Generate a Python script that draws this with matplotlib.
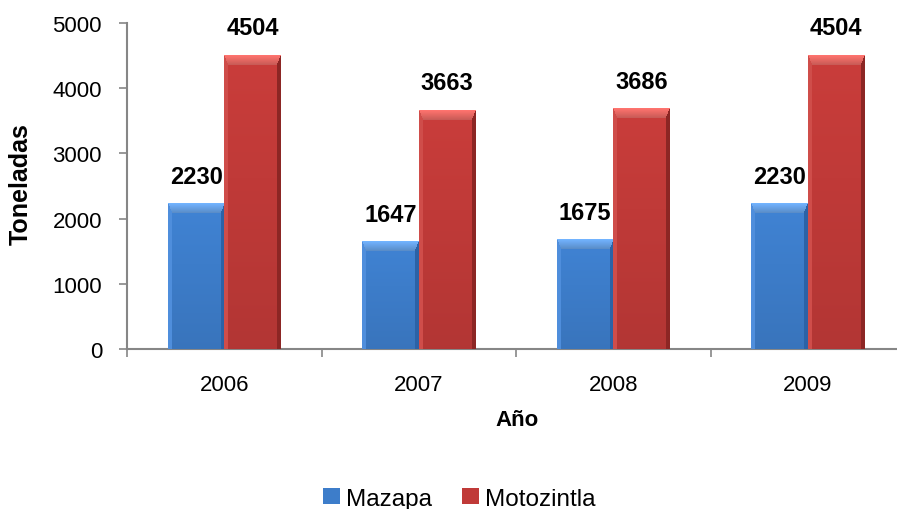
import numpy as np
import matplotlib.pyplot as plt
from matplotlib.colors import to_rgb
from matplotlib.patches import Patch

years = ['2006', '2007', '2008', '2009']
mazapa = [2230, 1647, 1675, 2230]
motozintla = [4504, 3663, 3686, 4504]

# body, top bevel, left bevel, right bevel
blue = ['#3d7dca', '#6aa6ec', '#4f8edc', '#2c62a6']
red = ['#c03a38', '#ec6b66', '#cf4d4a', '#8c2624']

plt.rcParams['font.family'] = ['Liberation Sans', 'DejaVu Sans']

fig = plt.figure(figsize=(8.97, 5.10), dpi=100)
ax = fig.add_axes([0.1416, 0.3137, 0.8674, 0.6392])
ax.set_xlim(-0.5, len(years) - 0.5)
ax.set_ylim(0, 5000)

x = np.arange(len(years))
w = 0.29
grey = '#868686'


def bevel(wpx, hpx, cols, bev=10, side=4):
    body, top, left, right = [np.array(to_rgb(c)) for c in cols]
    yy, xx = np.mgrid[0:hpx, 0:wpx].astype(float)
    dt = yy / bev
    dl = xx / side
    dr = (wpx - 1 - xx) / side
    shade = 1.05 - 0.12 * (yy / max(hpx, 1))
    img = body[None, None, :] * shade[..., None]
    mt = (dt < 1) & (dt <= dl) & (dt <= dr)
    ml = (dl < 1) & (dl < dt) & (dl <= dr)
    mr = (dr < 1) & (dr < dt) & (dr < dl)
    img[mt] = top * (1.08 - 0.25 * dt[mt])[:, None]
    img[ml] = left
    img[mr] = right
    return np.clip(img, 0, 1)


for vals, cols, k in [(mazapa, blue, -0.5), (motozintla, red, 0.5)]:
    bars = ax.bar(x + k * w, vals, w, color=cols[0], edgecolor='none', zorder=2)
    for b, v in zip(bars, vals):
        x0, y0 = b.get_x(), b.get_y()
        bw, bh = b.get_width(), b.get_height()
        p0 = ax.transData.transform((x0, y0))
        p1 = ax.transData.transform((x0 + bw, y0 + bh))
        img = bevel(int(round(p1[0] - p0[0])), int(round(p1[1] - p0[1])), cols)
        ax.imshow(img, aspect='auto', extent=(x0, x0 + bw, y0, y0 + bh),
                  origin='upper', zorder=3, interpolation='nearest')
        ax.text(x0 + bw / 2, v + 420, str(v), ha='center', va='center',
                fontsize=17, fontweight='bold', zorder=5)

ax.set_xlim(-0.5, len(years) - 0.5)
ax.set_ylim(0, 5000)
ax.set_yticks(np.arange(0, 5001, 1000))
ax.tick_params(axis='y', labelsize=16, length=6, width=1.2, color=grey, pad=12)
ax.set_xticks(x)
ax.set_xticklabels(years, fontsize=16)
ax.tick_params(axis='x', length=0, pad=18)
ax.set_xticks(np.arange(-0.5, len(years), 1), minor=True)
ax.tick_params(axis='x', which='minor', length=6, width=1.2, color=grey)

for s in ['top', 'right']:
    ax.spines[s].set_visible(False)
for s in ['left', 'bottom']:
    ax.spines[s].set_color(grey)
    ax.spines[s].set_linewidth(1.5)

ax.set_ylabel('Toneladas', fontsize=18, fontweight='bold')
ax.yaxis.set_label_coords(-0.121, 0.51)
ax.set_xlabel('Año', fontsize=16, fontweight='bold')
ax.xaxis.set_label_coords(0.5007, -0.185)

handles = [Patch(facecolor=c[0], edgecolor='none') for c in (blue, red)]
fig.legend(handles, ['Mazapa', 'Motozintla'], loc='center', bbox_to_anchor=(0.512, 0.02),
           ncol=2, frameon=False, fontsize=17.5, handlelength=0.7, handleheight=0.62,
           handletextpad=0.25, columnspacing=1.2, borderpad=0)

fig.savefig('out.png', dpi=100)
